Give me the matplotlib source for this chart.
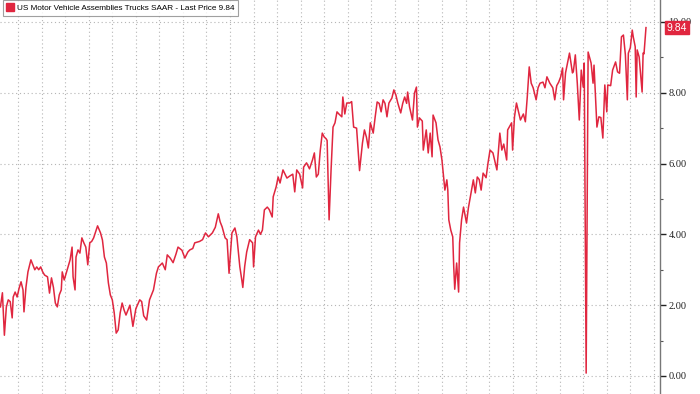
import numpy as np
import matplotlib
matplotlib.use("Agg")
import matplotlib.pyplot as plt
import matplotlib.dates as mdates
from matplotlib.lines import Line2D

# months since Jan 1970
months = [6, 8, 10, 12, 14, 16, 18, 19, 21, 23, 25, 27, 29, 30, 32, 34, 37, 39, 41, 43, 45, 47, 49, 51,
          54, 56, 58, 60, 62, 64, 66, 68, 69, 71, 73, 75, 77, 79, 80, 82, 83, 85, 87, 89, 91, 93, 95, 97,
          99, 101, 103, 105,
          108, 110, 112, 114, 116, 118, 120, 122, 124, 126, 128, 130, 132, 134, 136, 138, 141, 144, 148,
          150, 152, 155, 158,
          162, 165, 167, 171, 174, 176, 179, 182, 185, 187, 191, 194, 197, 199, 202, 204, 209, 212,
          215, 218, 222, 225, 228, 230, 232, 235, 237, 239, 242, 245, 247, 250, 252, 253, 255, 257, 260,
          263, 264, 266,
          269, 271, 273, 275, 278, 280, 283, 284, 287, 289, 291, 294, 298, 301, 304, 306, 308, 311, 314,
          315, 318,
          321, 324, 326, 328, 330, 332, 334, 336, 338, 339, 341, 343, 345, 347, 349, 351, 354, 355, 357,
          359, 362, 364, 366, 369, 370, 372,
          375, 377, 379, 381, 383, 386, 388, 390, 392, 394, 396, 398, 400, 402, 405, 407, 409, 411, 414,
          416, 418, 420, 421, 423, 426,
          428, 430, 431, 433, 436, 437, 440, 442, 444, 446, 447, 450, 452, 454, 456, 457, 459, 461, 462,
          463, 465, 467, 468, 469, 471, 473, 474, 476, 478,
          481, 483, 485, 488, 490, 492, 494, 496, 498, 501, 503, 505, 508, 512, 515, 517, 519, 522, 523,
          527, 528, 530, 532,
          536, 539, 541, 543, 545, 547, 549, 552, 554, 556, 559, 561, 563, 566, 569, 571, 573, 575, 577,
          579, 580, 582, 584, 586,
          589, 590, 592, 594, 596, 598, 600, 601, 603, 605, 608, 610, 611, 613, 614, 616, 618, 620, 622,
          624, 625, 628, 630, 633, 635, 637, 639,
          641, 643, 645, 646, 648, 650, 651, 653, 654, 655, 657, 660, 661, 662, 664]

trucks_saar = [1.95, 2.35, 1.15, 1.95, 2.15, 2.1, 1.64, 2.23, 2.37, 2.23, 2.48, 2.66, 2.43, 1.81, 2.51,
               2.94, 3.28, 3.14, 3.0, 3.08, 3.0, 3.08, 2.94, 2.85,
               2.8, 2.34, 2.77, 2.5, 2.06, 1.95, 2.29, 2.43, 2.94, 2.71, 2.9, 3.08, 3.28, 3.64, 2.8, 2.43,
               3.36, 3.56, 3.47, 3.9, 3.76, 3.64, 3.14, 3.76, 3.8, 3.9, 4.07, 4.24,
               4.04, 3.84, 3.36, 3.19, 2.63, 2.29, 2.15, 1.78, 1.21, 1.3, 1.78, 2.06, 1.86, 1.72, 1.86,
               2.0, 1.4, 1.9, 2.15, 2.1, 1.7, 1.58, 2.15,
               2.43, 2.9, 3.08, 3.19, 3.0, 3.42, 3.33, 3.2, 3.45, 3.64, 3.55, 3.33, 3.5, 3.56, 3.6, 3.76,
               3.8, 3.85,
               4.04, 3.93, 4.04, 4.2, 4.58, 4.35, 4.21, 3.9, 3.85, 2.9, 4.04, 4.18, 3.93, 3.08, 2.71, 2.5,
               3.1, 3.5, 3.85, 3.76, 3.08, 3.93,
               4.12, 4.0, 4.12, 4.69, 4.77, 4.7, 4.49, 5.06, 5.34, 5.62, 5.45, 5.82, 5.59, 5.65, 5.7, 5.2,
               5.82, 5.7, 5.31, 5.9, 6.02,
               5.85, 6.1, 6.3, 5.62, 5.7, 6.38, 6.86, 6.75, 6.7, 6.65, 4.41, 5.82, 7.03, 7.15, 7.46, 7.4,
               7.32, 7.88, 7.4, 7.71, 7.71, 7.75, 7.03, 7.0, 6.58, 5.8,
               6.58, 6.95, 6.75, 6.44, 7.15, 6.86, 7.32, 7.74, 7.7, 7.46, 7.8, 7.7, 7.32, 7.71, 7.85, 8.08,
               7.94, 7.71, 7.43, 7.7, 7.88, 7.7, 8.02, 7.6, 7.23,
               7.99, 8.16, 7.03, 7.29, 7.2, 6.38, 6.95, 6.3, 6.86, 6.19, 7.37, 7.15, 6.67, 6.47, 6.1, 5.82,
               5.25, 5.54, 5.25, 4.41, 4.12, 3.93, 3.08, 2.45, 3.19, 2.37, 3.76, 4.41, 4.77,
               4.32, 4.75, 5.06, 5.54, 5.17, 5.62, 5.55, 5.25, 5.73, 5.6, 6.02, 6.38, 6.3, 5.82, 6.86, 6.38,
               6.55, 6.1, 6.95, 7.15, 6.38, 7.32, 7.71,
               7.23, 7.4, 7.18, 7.88, 8.73, 8.27, 8.14, 7.8, 8.14, 8.27, 8.3, 8.14, 8.45, 8.27, 8.14, 7.8,
               8.2, 8.3, 8.45, 8.7, 7.8, 8.56, 8.84, 9.12,
               8.56, 8.6, 9.07, 8.27, 7.23, 8.64, 8.16, 8.84, 0.08, 9.15, 8.84, 8.27, 8.78, 7.6, 7.03, 7.32,
               7.3, 6.72, 8.22, 7.46, 8.22, 8.2, 8.64, 8.87, 8.59, 8.55, 9.58,
               9.63, 9.07, 7.8, 9.12, 9.27, 9.77, 9.58, 9.3, 7.88, 9.21, 9.01, 8.02, 9.12, 9.1, 9.84]

series_label = "US Motor Vehicle Assemblies Trucks SAAR - Last Price 9.84"
last_price = "9.84"
y_ticks = [0, 2, 4, 6, 8, 10]

red = "#e0263f"

dates = np.datetime64("1970-01") + np.array(months)

fig = plt.figure(figsize=(7, 3.94), dpi=100)
ax = fig.add_axes([0, 0, 660 / 700, 1])

ax.plot(dates, trucks_saar, color=red, lw=1.1)

ax.set_xlim(np.datetime64("1970-06-18"), np.datetime64("2026-07-10"))
ax.set_ylim(-0.51, 10.62)

ax.xaxis.set_major_locator(mdates.YearLocator(2))
ax.tick_params(axis="x", length=0, labelbottom=False)

ax.yaxis.tick_right()
ax.set_yticks(y_ticks)
ax.set_yticks([1, 3, 5, 7, 9], minor=True)
ax.set_yticklabels(["%.2f" % t for t in y_ticks], family="Liberation Serif", fontsize=7.5, color="#222222")
ax.tick_params(axis="y", which="major", direction="out", length=4, width=1, color="#222222", pad=2)
ax.tick_params(axis="y", which="minor", direction="out", length=2, width=0.8, color="#555555")

ax.grid(True, which="major", linestyle=(0, (1, 2.5)), color="#b5b5b5", lw=0.8)

for s in ["top", "left", "bottom"]:
    ax.spines[s].set_visible(False)
ax.spines["right"].set_color("#777777")
ax.spines["right"].set_linewidth(1.0)

# last price tag
ax.annotate(last_price, xy=(1.0, 9.84), xycoords=("axes fraction", "data"),
            xytext=(5, 0), textcoords="offset points", va="center", ha="left",
            color="white", fontsize=7.5, family="Liberation Sans",
            bbox=dict(boxstyle="square,pad=0.18", fc=red, ec=red), annotation_clip=False)

handle = Line2D([], [], marker="s", color=red, linestyle="none", markersize=6)
leg = ax.legend([handle], [series_label], loc="upper left", bbox_to_anchor=(0.004, 0.999),
                frameon=True, fancybox=False, borderpad=0.45, handletextpad=0.3,
                handlelength=1.0, borderaxespad=0, prop={"family": "Liberation Sans", "size": 5.9})
leg.get_frame().set_edgecolor("#888888")
leg.get_frame().set_linewidth(0.8)

fig.savefig("out.png", dpi=100)
